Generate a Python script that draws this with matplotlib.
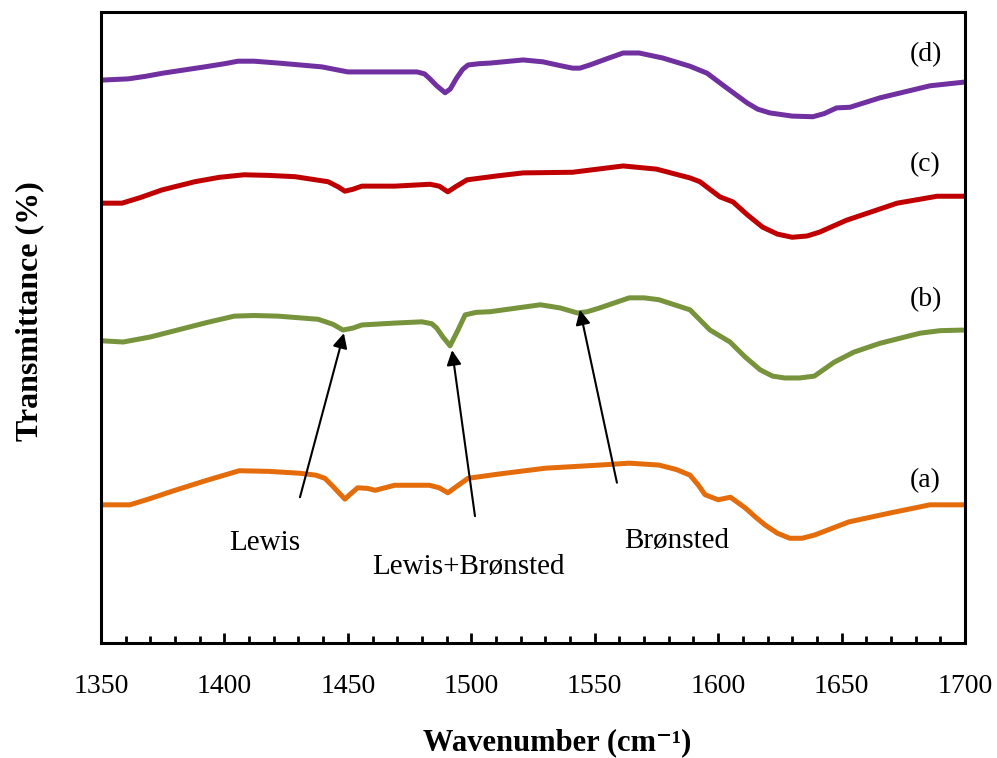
import numpy as np
import matplotlib
matplotlib.use('Agg')
import matplotlib.pyplot as plt
from matplotlib.ticker import MultipleLocator

plt.rcParams['font.family'] = ['Liberation Serif', 'DejaVu Serif']

# (d) 스펙트럼
wn_d = [1350, 1361, 1368, 1375, 1392, 1400, 1405.5, 1412, 1422, 1439.5, 1446, 1450, 1467, 1478,
        1481, 1483, 1486, 1489.4, 1491.5, 1494, 1496.5, 1498.7, 1503, 1507.6, 1521, 1529, 1536,
        1541, 1544, 1548, 1555, 1561.5, 1568, 1577.6, 1588.6, 1595.5, 1603, 1611.7, 1616,
        1621, 1630, 1638.4, 1643, 1648, 1653.4, 1665.6, 1685.8, 1700]
t_d = [89.2, 89.4, 89.8, 90.3, 91.3, 91.8, 92.2, 92.2, 91.9, 91.3, 90.8, 90.5, 90.5, 90.5,
       90.2, 89.5, 88.3, 87.2, 87.8, 89.5, 90.9, 91.6, 91.8, 91.9, 92.4, 92.1, 91.5,
       91.1, 91.1, 91.6, 92.6, 93.5, 93.5, 92.7, 91.4, 90.3, 88.1, 85.6, 84.6,
       84.0, 83.5, 83.4, 83.9, 84.8, 84.9, 86.4, 88.3, 88.9]

# (c) 스펙트럼
wn_c = [1350, 1358.5, 1366, 1374.7, 1388, 1398, 1408, 1418, 1428.6, 1442, 1446, 1448.8, 1452,
        1455.7, 1469, 1483.3, 1487, 1490.5, 1494, 1498.3, 1510, 1521, 1541, 1561.5, 1575,
        1588.6, 1592.6, 1600.7, 1606, 1612, 1618, 1624, 1630, 1636, 1641, 1652, 1672.5,
        1688.7, 1700]
t_c = [69.7, 69.7, 70.6, 71.8, 73.1, 73.8, 74.2, 74.1, 73.9, 73.1, 72.3, 71.6, 71.9,
       72.4, 72.4, 72.7, 72.4, 71.5, 72.4, 73.4, 74.0, 74.5, 74.6, 75.6, 75.1,
       73.7, 73.1, 70.7, 69.9, 67.8, 65.9, 64.8, 64.3, 64.5, 65.1, 67.0, 69.7,
       70.8, 70.8]

# (b) 스펙트럼
wn_b = [1350, 1359, 1370, 1381, 1393, 1404, 1412, 1421.7, 1438, 1444, 1448, 1452, 1455.7, 1469,
        1480, 1484, 1486, 1488.5, 1491.4, 1494.5, 1497.5, 1502, 1507.6, 1528, 1536, 1543,
        1547, 1552, 1564, 1570, 1576, 1588.6, 1596.7, 1604.8, 1611, 1617, 1622, 1627,
        1633, 1639, 1647, 1655, 1665.6, 1681.8, 1690, 1700]
t_b = [47.9, 47.7, 48.5, 49.6, 50.8, 51.8, 51.9, 51.8, 51.3, 50.5, 49.6, 49.9, 50.4, 50.7,
       50.9, 50.6, 49.9, 48.5, 47.1, 49.5, 52.0, 52.4, 52.5, 53.6, 53.1, 52.3,
       52.5, 53.1, 54.7, 54.7, 54.4, 52.8, 49.6, 47.7, 45.3, 43.3, 42.3, 42.0,
       42.0, 42.3, 44.5, 46.1, 47.5, 49.1, 49.5, 49.6]

# (a) 스펙트럼
wn_a = [1350, 1361.7, 1370, 1380, 1393, 1406, 1418, 1430.6, 1437, 1440.7, 1444, 1448.8, 1451,
        1454, 1458, 1461, 1469, 1483, 1487, 1490.5, 1494, 1498.7, 1511.6, 1530, 1552, 1564,
        1576, 1583, 1588.6, 1592, 1594.7, 1600, 1605, 1611, 1615, 1619, 1624, 1629, 1634,
        1639, 1653, 1669.6, 1685.8, 1700]
t_a = [21.9, 21.9, 22.9, 24.2, 25.8, 27.3, 27.2, 26.9, 26.6, 26.1, 24.8, 22.8, 23.6,
       24.6, 24.5, 24.2, 25.0, 25.0, 24.6, 23.8, 24.8, 26.1, 26.8, 27.7, 28.2, 28.5,
       28.2, 27.5, 26.6, 25.0, 23.5, 22.7, 23.1, 21.4, 20.0, 18.7, 17.4, 16.6, 16.6,
       17.1, 19.2, 20.6, 21.9, 21.9]

series = [('(d)', wn_d, t_d, '#7030A0', 93.2),
          ('(c)', wn_c, t_c, '#C00000', 75.8),
          ('(b)', wn_b, t_b, '#77933C', 54.4),
          ('(a)', wn_a, t_a, '#E46C0A', 25.8)]

fig = plt.figure(figsize=(9.97, 7.58), dpi=100)
ax = fig.add_axes([0.1013, 0.1517, 0.8666, 0.8325])

for name, wn, t, col, ly in series:
    ax.plot(wn, t, color=col, lw=3.6, solid_joinstyle='round', solid_capstyle='round')
    ax.text(1684, ly, name, fontsize=20, ha='center', va='center')

# 화살표 주석
arrow = dict(arrowstyle='-|>', color='black', lw=1.5, mutation_scale=22, shrinkA=0, shrinkB=0)
ax.annotate('', xy=(1448.4, 49.1), xytext=(1430.6, 23.1), arrowprops=arrow)
ax.annotate('', xy=(1492.2, 46.4), xytext=(1501.5, 20.1), arrowprops=arrow)
ax.annotate('', xy=(1544, 52.8), xytext=(1559, 25.4), arrowprops=arrow)
ax.text(1416.4, 15.8, 'Lewis', fontsize=21, ha='center', va='center')
ax.text(1498.7, 12.0, 'Lewis+Brønsted', fontsize=21, ha='center', va='center')
ax.text(1583.3, 16.2, 'Brønsted', fontsize=21, ha='center', va='center')

ax.set_xlim(1350, 1700)
ax.set_ylim(0, 100)
ax.xaxis.set_major_locator(MultipleLocator(50))
ax.xaxis.set_minor_locator(MultipleLocator(10))
ax.set_yticks([])
ax.tick_params(axis='x', which='major', direction='in', length=7, width=2, labelsize=20, pad=22)
ax.tick_params(axis='x', which='minor', direction='in', length=5, width=2)
for s in ax.spines.values():
    s.set_linewidth(2.2)

ax.set_xlabel('Wavenumber (cm\u207b\u00b9)', fontsize=22, fontweight='bold')
ax.set_ylabel('Transmittance (%)', fontsize=23, fontweight='bold')
ax.xaxis.label.set_va('center')
ax.yaxis.label.set_va('center')
ax.xaxis.set_label_coords(0.528, -0.158)
ax.yaxis.set_label_coords(-0.082, 0.526)

fig.savefig('out.png', dpi=100)
